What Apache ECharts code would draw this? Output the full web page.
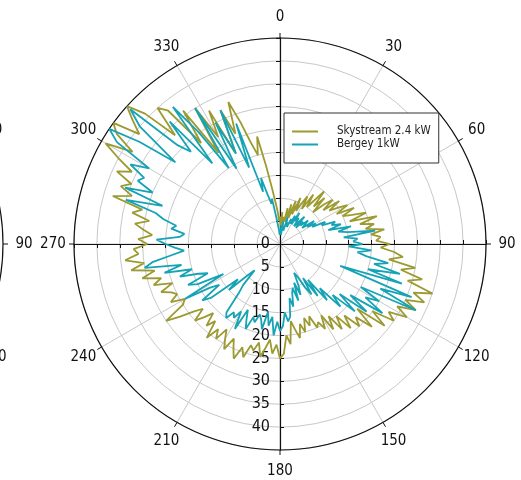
<!DOCTYPE html>
<html><head><meta charset="utf-8">
<script src="https://cdn.jsdelivr.net/npm/echarts@6/dist/echarts.min.js"></script>
<style>html,body{margin:0;padding:0;background:#fff}#c{width:521px;height:480px}</style>
</head><body><div id="c"></div>
<script>
// sampling directions (degrees, clockwise from north), one reading every 2 degrees
const angles = Array.from({length:180},(_,i)=>i*2);
const skystream = [
 6,4,7,3,6,5,8,5,9,6,   10,7,11,8,10,12,9,13,10,12,  15,11,14,10,13,15,12,16,13,15,
 17,14,18,15,17,20,16,22,18,21,  19,23,20,22,21,24,22,25,27,24,  30,27,32,29,35,31,34,30,33,29,
 32,28,30,25,29,22,27,23,25,21,  24,20,23,19,22,18,21,19,20,17,  19,17,20,18,21,19,17,22,20,24,
 25,22,24,21,23,25,22,24,23,26,  24,27,25,23,26,24,22,25,23,26,  22,24,21,23,25,22,24,27,30,25,
 24,27,25,26,28,25,29,27,31,28,  33,30,34,31,32,29,31,28,30,32,  29,33,31,38,34,37,35,39,36,40,
 44,38,43,45,39,42,45,41,33,40,  38,28,36,24,35,27,33,22,32,26,  33,28,23,20,24,17,12,9,7,5];
const bergey = [
 3,2,4,2,5,3,4,3,6,4,   5,4,6,5,7,5,8,6,7,5,   6,8,5,7,6,8,7,6,9,7,
 9,8,11,10,13,12,14,11,16,13,  15,21,14,17,16,18,15,20,17,19,  24,21,27,20,28,14,31,24,33,20,
 25,22,27,19,24,17,22,16,19,13,  16,10,14,9,13,11,8,7,10,12,  9,13,10,11,14,12,16,17,15,18,
 19,17,20,16,18,15,19,17,16,18,  17,20,18,16,21,17,19,18,20,19,  14,12,8,10,15,12,19,21,16,18,
 24,14,20,22,17,19,23,20,26,22,  30,28,24,21,23,25,27,22,21,24,  23,26,28,35,27,36,30,34,33,37,
 33,42,45,38,29,40,44,31,28,36,  23,38,30,20,35,19,30,22,32,18,  28,12,15,11,9,10,6,4,3,2];
const seriesNames = ['Skystream 2.4 kW','Bergey 1kW'];
const seriesColors = ['#9c9a30','#16a3b5'];
const angleLabels = [0,30,60,90,120,150,180,210,240,270,300,330];
const angleTicks = {min:0, max:360, step:30};
const radiusTicks = {min:0, max:45, step:5};

const FONT = "'DejaVu Sans Condensed','Liberation Sans',sans-serif";
const C = [280,244], R = 206;
const BLACK = '#111', GRID = '#c8c8c8';
const LABEL_R = 49.6; // radius (in data units) where the angle labels sit, just outside the rim

function closed(vals){ const d = angles.map((a,i)=>[vals[i],a]); d.push([vals[0],360]); return d; }

function angleAxisVisible(polarIndex, split){
  return {polarIndex, startAngle:90, clockwise:true, min:angleTicks.min, max:angleTicks.max, interval:angleTicks.step,
    axisLine:{lineStyle:{color:BLACK, width:1.2}},
    axisTick:{show:true, length:5, lineStyle:{color:BLACK, width:1}},
    axisLabel:{show:false},
    splitLine:{show:split, lineStyle:{color:GRID, width:1}}, splitArea:{show:false}};
}
function angleAxisHidden(polarIndex, start){
  return {polarIndex, startAngle:start, min:angleTicks.min, max:angleTicks.max, interval:angleTicks.step, show:false};
}
function radiusAxis(polarIndex, split, labels, tickInside, show=true){
  return {polarIndex, show, min:radiusTicks.min, max:radiusTicks.max, interval:radiusTicks.step,
    axisLine:{show:true, lineStyle:{color:BLACK, width:1.2}},
    axisTick:{show:true, length:4, inside:tickInside, lineStyle:{color:BLACK}},
    axisLabel:{show:labels, fontFamily:FONT, fontSize:16, color:'#111', margin:-10, align:'right', verticalAlign:'middle',
      showMaxLabel:false, formatter: v => (v >= radiusTicks.max ? '' : String(v))},
    splitLine:{show:split, lineStyle:{color:GRID, width:1}}, splitArea:{show:false}};
}

const option = {
  animation:false,
  backgroundColor:'#fff',
  polar:[
    {center:C, radius:R},
    {center:C, radius:R},
    {center:C, radius:R},
    {center:C, radius:R},
    {center:[-203,244], radius:R}
  ],
  angleAxis:[
    angleAxisVisible(0, true),
    angleAxisHidden(1, 0),
    angleAxisHidden(2, 270),
    angleAxisHidden(3, 180),
    angleAxisVisible(4, false)
  ],
  radiusAxis:[
    radiusAxis(0, true, false, false),
    radiusAxis(1, false, false, false),
    radiusAxis(2, false, true, false),
    radiusAxis(3, false, false, true),
    radiusAxis(4, false, false, false, false)
  ],
  legend:{
    data:seriesNames, orient:'vertical', left:284, top:113, padding:[12,8,12,8],
    borderColor:'#333', borderWidth:1, backgroundColor:'#fff',
    icon:'rect', itemWidth:26, itemHeight:2, itemGap:0,
    textStyle:{fontFamily:FONT, fontSize:11.5, color:'#222', lineHeight:13, padding:[0,0,0,14]}
  },
  series:[
    {type:'line', name:seriesNames[0], coordinateSystem:'polar', polarIndex:0, data:closed(skystream),
      symbol:'none', lineStyle:{color:seriesColors[0], width:1.8}, itemStyle:{color:seriesColors[0]}},
    {type:'line', name:seriesNames[1], coordinateSystem:'polar', polarIndex:0, data:closed(bergey),
      symbol:'none', lineStyle:{color:seriesColors[1], width:1.8}, itemStyle:{color:seriesColors[1]}}
  ]
};
const chart = echarts.init(document.getElementById('c'), null, {renderer:'canvas'});
chart.setOption(option);

// angle labels, centred just outside the rim, positioned through the polar coordinate systems
const labelEls = [];
[0,4].forEach(pi => {
  angleLabels.forEach(a => {
    const p = chart.convertToPixel({polarIndex:pi}, [LABEL_R, a]);
    if (!p) return;
    labelEls.push({type:'text', x:p[0], y:p[1], z:10, silent:true,
      style:{text:String(a), align:'center', verticalAlign:'middle', font:"15px 'DejaVu Sans Condensed', sans-serif", fill:'#111'}});
  });
});
chart.setOption({graphic:labelEls});
</script></body></html>
